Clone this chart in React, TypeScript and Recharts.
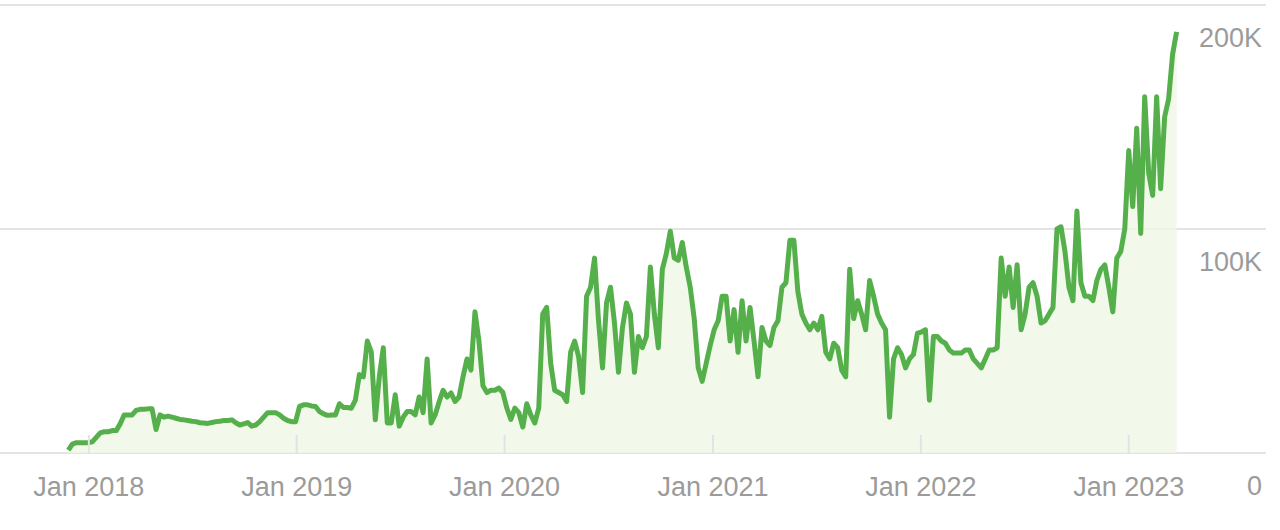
import { AreaChart, Area, XAxis, YAxis, CartesianGrid } from "recharts";

// weekly views, in thousands, starting at the week below
const firstWeek = "2017-11-26";
const weeklyViews = [
  1.3, 4, 4.6, 4.6, 4.6, 4.6, 5, 7, 9, 9.5,
  9.5, 10, 10, 13, 17, 17, 17, 19, 19.5, 19.5,
  19.7, 19.7, 10.5, 17, 16, 16.5, 16, 15.5, 15, 14.8,
  14.5, 14.2, 14, 13.5, 13.4, 13.2, 13.6, 14, 14.2, 14.5,
  14.5, 14.8, 13.5, 12.5, 13, 13.6, 12, 12.5, 14, 16,
  18, 18, 18, 17, 15.5, 14.5, 14, 14, 20.8, 21.5,
  21.5, 21, 20.8, 18.5, 17.5, 16.8, 17, 17, 22, 20.3,
  20.3, 20, 23.6, 35, 34, 50, 45, 14.8, 34, 47,
  13.4, 13.4, 26, 12, 16, 18.5, 18.5, 17, 25, 18,
  42, 13.4, 17, 22.8, 28, 25, 26.8, 23, 25, 34,
  42, 37, 63, 50, 30, 27, 28, 28, 29, 27,
  20, 15, 20, 18, 11.6, 22, 17, 13.4, 20, 62,
  65, 40, 28, 27, 26, 23, 45, 50, 43, 27,
  70, 74, 87, 59, 38, 67, 74, 58, 36, 56,
  67, 62, 36, 52, 47, 52, 83, 62, 47, 82,
  89, 99, 87, 86, 94, 83, 74, 60, 38, 32,
  40, 48, 55, 59, 70, 70, 50, 64, 45, 68,
  50, 65, 50, 34, 56, 50, 48, 56, 59, 74,
  76, 95, 95, 72, 62, 58, 55, 58, 55, 61,
  45, 42, 49, 47, 37, 34, 82, 60, 68, 62,
  55, 77, 70, 62, 58, 55, 16, 42, 47, 44,
  38, 42, 44, 53.5, 54, 55, 23.6, 52, 52, 50,
  49, 46, 44.6, 44.6, 44.6, 46, 46, 42, 40, 38,
  42, 46, 46, 47, 87, 70, 83, 65, 84, 55,
  62, 74, 76, 70, 58, 59, 62, 65, 100, 101,
  90, 74, 68, 108, 76, 70, 70, 68, 77, 82,
  84, 74, 63, 87, 90, 100, 135, 110, 145, 98,
  159, 125, 115, 159, 118, 150, 158, 178, 188,
];

const yearTicks = [2018, 2019, 2020, 2021, 2022, 2023];
const valueTicks = [0, 100, 200];
const valueLabels = ["0", "100K", "200K"];

const DAY = 86400000;
const data = weeklyViews.map((v, i) => ({
  t: Date.parse(firstWeek) + i * 7 * DAY,
  views: v,
}));

const FONT = "'Liberation Sans', Arial, sans-serif";
const LABEL = "#9b9b9b";

function YearTick(props: any) {
  const { x, y, payload } = props;
  const year = new Date(payload.value).getUTCFullYear();
  return (
    <g>
      <line x1={x} x2={x} y1={y - 26} y2={y - 8} stroke="#e3e3e3" strokeWidth={2} />
      <text x={x} y={y + 35} textAnchor="middle" fill={LABEL} fontSize={27} fontFamily={FONT}>
        {`Jan ${year}`}
      </text>
    </g>
  );
}

function ValueTick(props: any) {
  const { y, payload } = props;
  const idx = valueTicks.indexOf(Number(payload.value));
  return (
    <text x={1262} y={y + 42} textAnchor="end" fill={LABEL} fontSize={27} fontFamily={FONT}>
      {valueLabels[idx]}
    </text>
  );
}

export default function App() {
  return (
    <div style={{ position: "absolute", left: 0, top: 0, background: "#fff" }}>
      <AreaChart
        width={1280}
        height={530}
        data={data}
        margin={{ top: 5, right: 0, bottom: 0, left: 0 }}
      >
        <CartesianGrid vertical={false} stroke="#e4e4e4" strokeWidth={2} />
        <XAxis
          dataKey="t"
          type="number"
          scale="time"
          domain={[Date.UTC(2017, 6, 29), Date.UTC(2023, 7, 30)]}
          ticks={yearTicks.map((y) => Date.UTC(y, 0, 1))}
          allowDataOverflow
          height={77}
          axisLine={false}
          tickLine={false}
          tick={<YearTick />}
        />
        <YAxis
          orientation="right"
          width={14}
          domain={[0, 200]}
          ticks={valueTicks}
          interval={0}
          axisLine={false}
          tickLine={false}
          tick={<ValueTick />}
        />
        <Area
          type="linear"
          dataKey="views"
          stroke="#55b04c"
          strokeWidth={5}
          strokeLinejoin="round"
          fill="#eff7e6"
          fillOpacity={0.8}
          dot={false}
          activeDot={false}
          isAnimationActive={false}
        />
      </AreaChart>
    </div>
  );
}
